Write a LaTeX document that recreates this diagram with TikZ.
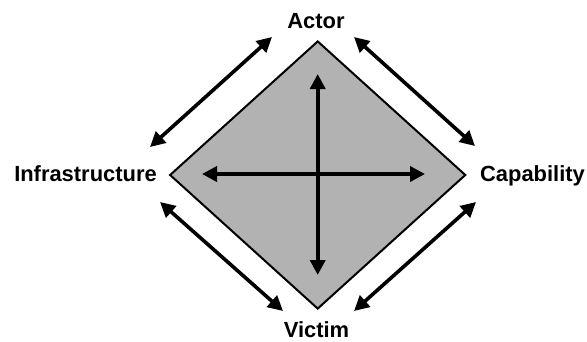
\documentclass[tikz,border=0pt]{standalone}
\usepackage{fontspec}
\setmainfont{Liberation Sans}
\usetikzlibrary{arrows.meta,shapes.geometric}

\begin{document}
\begin{tikzpicture}[
  x=1bp,
  y=-1bp,
  vertex/.style={
    font=\bfseries\fontsize{22}{26}\selectfont,
    anchor=base,
    inner sep=0pt
  },
  model/.style={
    draw,
    diamond,
    fill=gray!60,
    line width=2bp,
    minimum width=296bp,
    minimum height=268bp,
    inner sep=0pt
  },
  link/.style={
    line width=3.6bp,
    {Triangle[length=15bp,width=15bp]}-{Triangle[length=15bp,width=15bp]}
  }
]
  \useasboundingbox (0,0) rectangle (587,341);

  % The diamond and its four corner labels.
  \node[model] (core) at (317.7,175) {};
  \node[vertex] (actor) at (316,28) {Actor};
  \node[vertex] (infra) at (85.5,181.7) {Infrastructure};
  \node[vertex] (capab) at (532.5,181.7) {Capability};
  \node[vertex] (victim) at (316.5,337.5) {Victim};

  % Ends of the arrows.
  \coordinate (in-top) at (317.7,74);
  \coordinate (in-bot) at (317.7,275);
  \coordinate (in-left) at (202,174);
  \coordinate (in-right) at (425,174);
  \coordinate (tl-a) at (150,147);
  \coordinate (tl-b) at (272,37);
  \coordinate (tr-a) at (354,37);
  \coordinate (tr-b) at (475,146);
  \coordinate (bl-a) at (160,202);
  \coordinate (bl-b) at (283,311);
  \coordinate (br-a) at (476,202);
  \coordinate (br-b) at (354,311);

  % Cross inside the diamond.
  \draw[link] (in-top) -- (in-bot);
  \draw[link] (in-left) -- (in-right);

  % Edges outside the diamond.
  \draw[link] (tl-a) -- (tl-b);
  \draw[link] (tr-a) -- (tr-b);
  \draw[link] (bl-a) -- (bl-b);
  \draw[link] (br-a) -- (br-b);
\end{tikzpicture}
\end{document}
